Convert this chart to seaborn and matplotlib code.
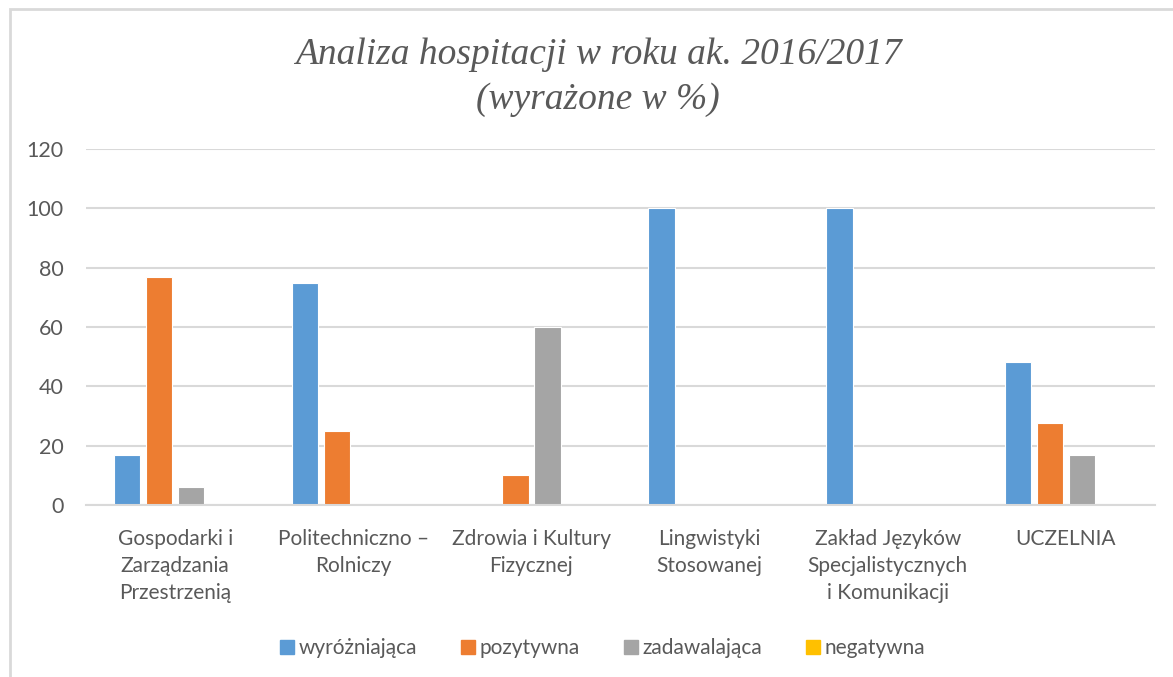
import matplotlib
matplotlib.use("Agg")
import matplotlib.pyplot as plt
import seaborn as sns
import pandas as pd
from matplotlib.patches import Rectangle
from matplotlib.lines import Line2D

categories = ["Gospodarki i\nZarządzania\nPrzestrzenią", "Politechniczno –\nRolniczy",
              "Zdrowia i Kultury\nFizycznej", "Lingwistyki\nStosowanej",
              "Zakład Języków\nSpecjalistycznych\ni Komunikacji", "UCZELNIA"]
series = ["wyróżniająca", "pozytywna", "zadawalająca", "negatywna"]
wyrozniajaca = [17, 75, 0, 100, 100, 48.1]
pozytywna = [77, 25, 10, 0, 0, 27.8]
zadawalajaca = [6, 0, 60, 0, 0, 16.7]
negatywna = [0, 0, 0, 0, 0, 0]
colors = ["#5B9BD5", "#ED7D31", "#A5A5A5", "#FFC000"]
yticks = [0, 20, 40, 60, 80, 100, 120]

rows = []
for s, vals in zip(series, [wyrozniajaca, pozytywna, zadawalajaca, negatywna]):
    for c, v in zip(categories, vals):
        rows.append({"kategoria": c, "seria": s, "wartosc": v})
df = pd.DataFrame(rows)

sns.set_theme(style="white")
plt.rcParams['font.family'] = ['Lato', 'DejaVu Sans']

fig = plt.figure(figsize=(11.73, 6.77), dpi=100)
ax = fig.add_axes([86/1173, 1 - 505/677, (1155-86)/1173, (505-149)/677])

sns.barplot(data=df, x="kategoria", y="wartosc", hue="seria", hue_order=series,
            order=categories, palette=colors, width=0.72, gap=0.18, saturation=1,
            edgecolor="white", linewidth=0.8, ax=ax, legend=False, errorbar=None)

ax.set_ylim(0, 120)
ax.set_yticks(yticks)
ax.set_yticklabels([str(t) for t in yticks], fontsize=15.5, color="#595959")
ax.set_xlim(-0.5, len(categories) - 0.5)
ax.set_xticks(range(len(categories)))
ax.set_xticklabels(categories, fontsize=15, color="#595959", linespacing=1.45, va="top")
ax.tick_params(axis="x", length=0, pad=17)
ax.tick_params(axis="y", length=0, pad=16)
ax.set_xlabel("")
ax.set_ylabel("")
for sp in ["top", "right", "left"]:
    ax.spines[sp].set_visible(False)
ax.spines["bottom"].set_color("#d9d9d9")
ax.spines["bottom"].set_linewidth(1.5)
ax.yaxis.grid(True, color="#d9d9d9", linewidth=1.5)
ax.set_axisbelow(True)

fig.text(598/1173, 1 - 55/677, "Analiza hospitacji w roku ak. 2016/2017", ha="center", va="center",
         fontsize=27, style="italic", family="Liberation Serif", color="#595959")
fig.text(598/1173, 1 - 100/677, "(wyrażone w %)", ha="center", va="center",
         fontsize=27, style="italic", family="Liberation Serif", color="#595959")

handles = [Line2D([0], [0], marker="s", linestyle="none", markersize=10,
                  markerfacecolor=c, markeredgecolor=c) for c in colors]
fig.legend(handles, series, loc="center", bbox_to_anchor=(601/1173, 1 - 648/677), ncol=4,
           frameon=False, fontsize=15, labelcolor="#595959", handletextpad=0.05,
           columnspacing=1.95, handlelength=1.0)

fig.add_artist(Rectangle((10/1173, -0.05), 1.1, 1 - 9/677 + 0.05, transform=fig.transFigure,
                         fill=False, edgecolor="#d9d9d9", linewidth=2))

fig.savefig("out.png", dpi=100)
